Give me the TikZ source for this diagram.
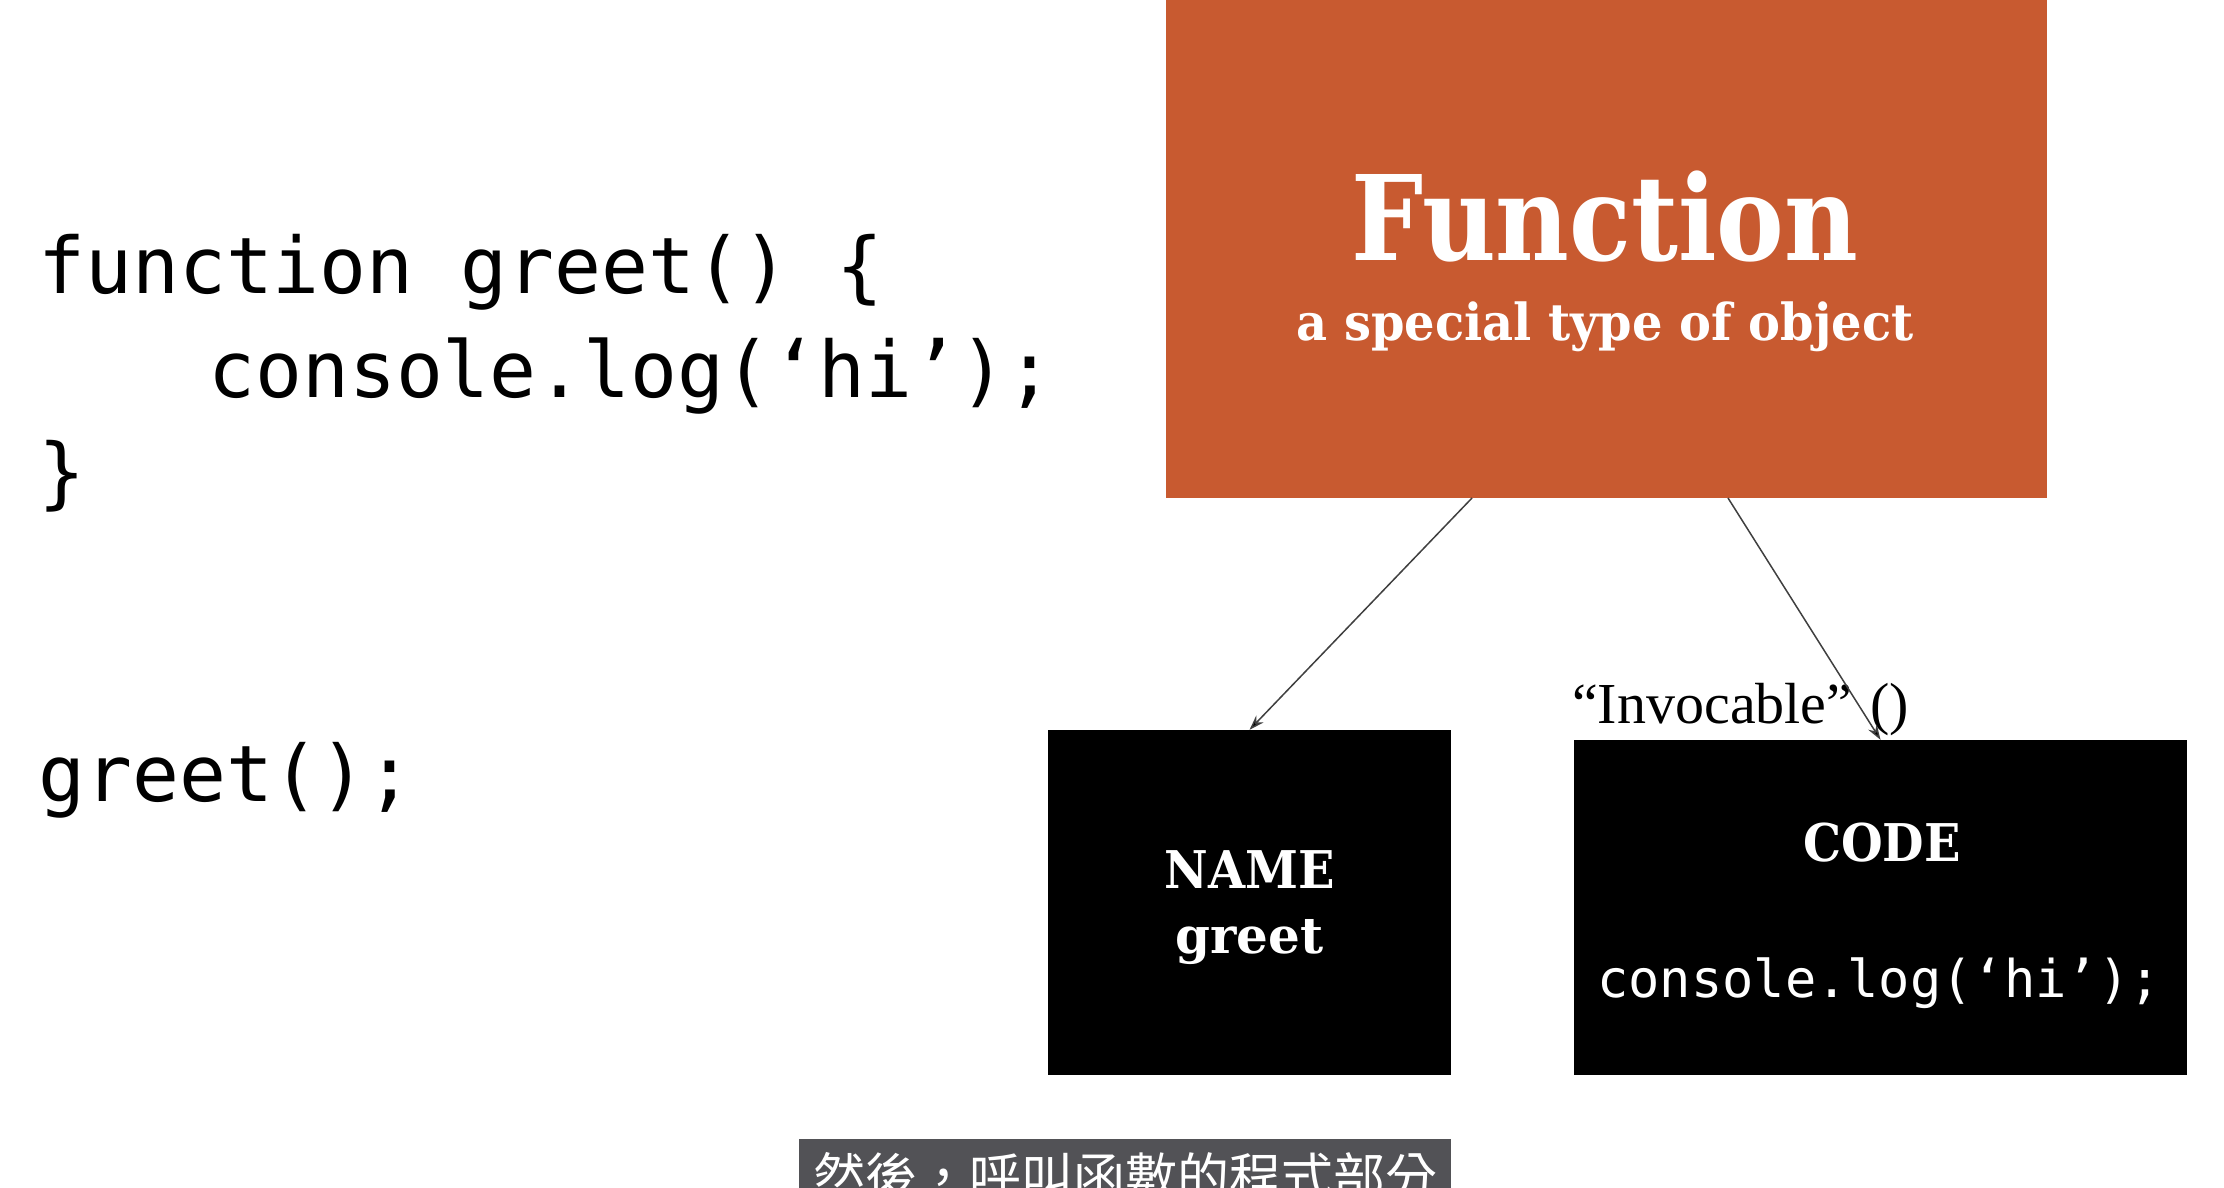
\documentclass[tikz,border=0pt]{standalone}
\usepackage{fontspec}
\usepackage{graphicx}
\usetikzlibrary{arrows.meta}
\setmainfont{DejaVu Serif}
\newfontfamily\codefont{DejaVu Sans Mono}
\newfontfamily\slabfont{DejaVu Serif}
\newfontfamily\timesfont{Liberation Serif}
\newfontfamily\cjkfont{Noto Sans CJK TC}
\definecolor{rust}{HTML}{C85A30}
\definecolor{captiongray}{HTML}{525256}
\definecolor{linkgray}{HTML}{404040}
\newcommand\fsz[1]{\fontsize{#1}{#1}\selectfont}
\newcommand\narrow[2]{\scalebox{#1}[1]{#2}}
\begin{document}
\begin{tikzpicture}[x=1pt,y=-1pt,
  codeline/.style={anchor=base west,inner sep=0pt,font=\codefont\fsz{78}},
  blackbox/.style={fill=black,draw=none,inner sep=0pt},
  boxtext/.style={text=white,inner sep=0pt,anchor=base},
  link/.style={draw=linkgray,line width=1.5pt,-{Stealth[length=15pt,width=10pt,fill=black]}}]
\useasboundingbox (0,0) rectangle (2224,1188);
\clip (0,0) rectangle (2224,1188);
\fill[white] (0,0) rectangle (2224,1188);

% source code on the left
\node[codeline] (code1) at (38,293) {function greet() \{};
\node[codeline] (code2) at (208,397) {console.log(‘hi’);};
\node[codeline] (code3) at (38,499) {\}};
\node[codeline] (code4) at (38,801) {greet();};

% the function object
\node[fill=rust,minimum width=881pt,minimum height=498pt,inner sep=0pt] (fn) at (1606.5,249) {};
\node[boxtext,font=\slabfont\bfseries\fsz{118}] (fntitle) at (1605,260) {\narrow{0.86}{Function}};
\node[boxtext,font=\slabfont\bfseries\fsz{51}] (fnsub) at (1605,340) {\narrow{0.94}{a special type of object}};

% its two parts
\node[blackbox,minimum width=403pt,minimum height=345pt] (name) at (1249.5,902.5) {};
\node[boxtext,font=\slabfont\bfseries\fsz{52}] (nametitle) at (1249.5,888) {\narrow{0.92}{NAME}};
\node[boxtext,font=\slabfont\bfseries\fsz{50}] (nameval) at (1249.5,953) {greet};

\node[blackbox,minimum width=613pt,minimum height=335pt] (code) at (1880.5,907.5) {};
\node[boxtext,font=\slabfont\bfseries\fsz{52}] (codetitle) at (1882,861) {\narrow{0.92}{CODE}};
\node[boxtext,font=\codefont\fsz{52}] (codeval) at (1879,997) {console.log(‘hi’);};

\node[anchor=base west,inner sep=0pt,font=\timesfont\fsz{58}] (invoke) at (1572,723) {“Invocable”\hspace{18pt}()};

% connectors
\coordinate (fnL) at (1472,498);
\coordinate (fnR) at (1728,498);
\draw[link] (fnL) -- (name.north);
\draw[link] (fnR) -- (code.north);

% caption bar
\node[fill=captiongray,minimum width=652pt,minimum height=70pt,inner sep=0pt,anchor=north] (capbar) at (1125,1139) {};
\node[anchor=base,inner sep=0pt,text=white,font=\cjkfont\fsz{52}] (captext) at (1125,1196) {然後，呼叫函數的程式部分};
\end{tikzpicture}
\end{document}
